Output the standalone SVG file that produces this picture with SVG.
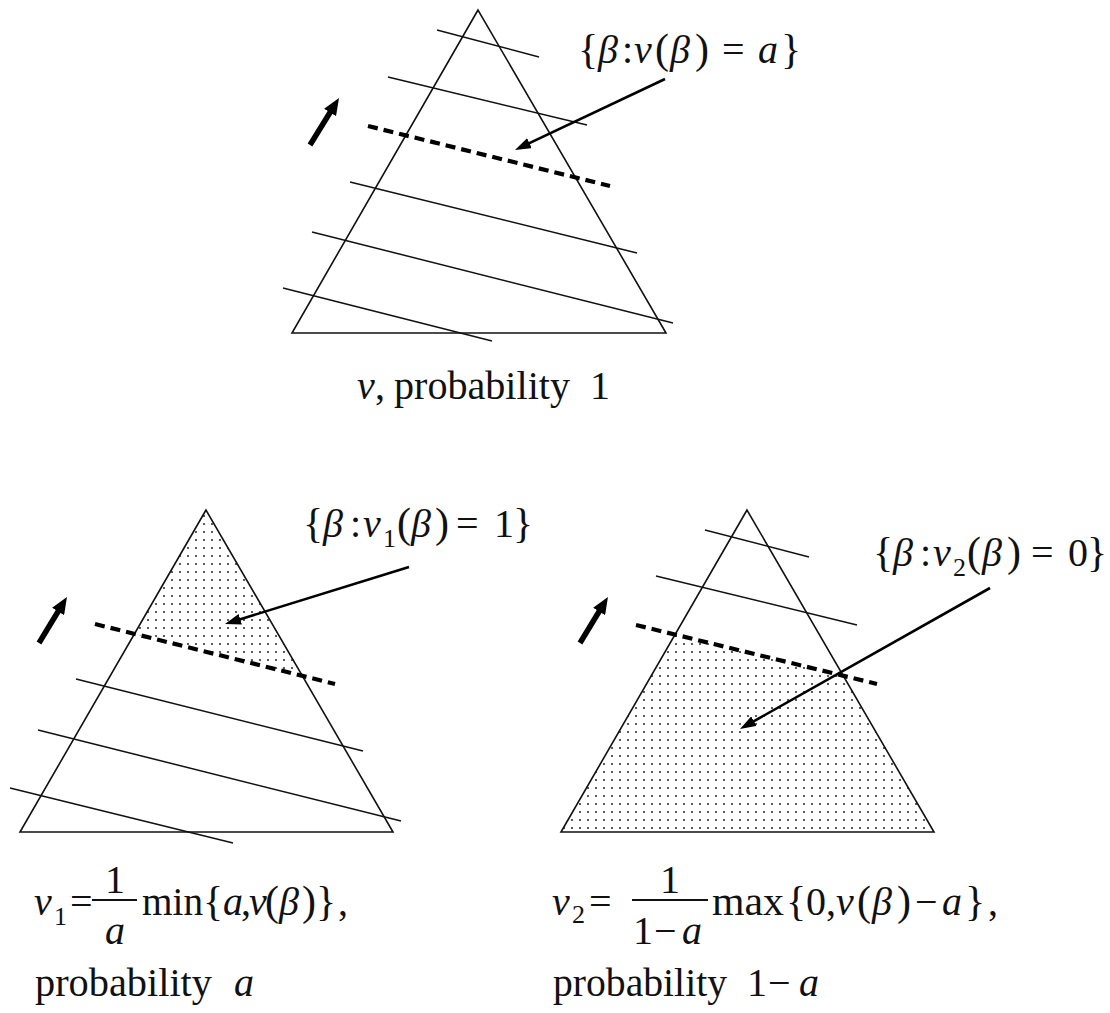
<svg xmlns="http://www.w3.org/2000/svg" width="1110" height="1013" viewBox="0 0 1110 1013" font-family="'Liberation Serif', 'DejaVu Serif', serif">
<style>
.thin{stroke:#111;stroke-width:1.5;fill:none}
.tri{stroke:#111;stroke-width:1.6;fill:none;stroke-linejoin:miter}
.dash{stroke:#000;stroke-width:4.2;stroke-dasharray:10 6;fill:none}
.ptr{stroke:#000;stroke-width:2.6;fill:none}
.up{stroke:#000;stroke-width:5.5;fill:none}
text{font-family:'Liberation Serif','DejaVu Serif',serif;font-size:40px;fill:#111}
.i{font-style:italic}
.br{font-size:42px}
.sub{font-size:26px}
</style>
<defs>
<pattern id="dots" width="8" height="8" patternUnits="userSpaceOnUse">
<circle cx="4" cy="4" r="1.1" fill="#333"/>
</pattern>
<marker id="headP" viewBox="0 0 16 11" refX="10" refY="5.5" markerWidth="16" markerHeight="11" orient="auto" markerUnits="userSpaceOnUse">
<path d="M0,0 L16,5.5 L0,11 z" fill="#000"/>
</marker>
<marker id="headU" viewBox="0 0 17 14" refX="9" refY="7" markerWidth="17" markerHeight="14" orient="auto" markerUnits="userSpaceOnUse">
<path d="M0,0 L17,7 L0,14 z" fill="#000"/>
</marker>
</defs>
<rect width="1110" height="1013" fill="#fff"/>

<g id="panel-top">
<line class="thin" x1="437" y1="30" x2="539" y2="57"/>
<line class="thin" x1="388" y1="77" x2="587" y2="125"/>
<line class="thin" x1="350" y1="182" x2="637" y2="253"/>
<line class="thin" x1="312" y1="232" x2="673" y2="323"/>
<line class="thin" x1="283" y1="288" x2="492" y2="341"/>
<polygon class="tri" points="478,10 292,333 666,333"/>
<line class="dash" x1="368" y1="126" x2="610" y2="186"/>
<text y="63"><tspan x="578" class="br">{</tspan><tspan x="598" class="i">β</tspan><tspan x="622">:</tspan><tspan x="634" class="i">v</tspan><tspan x="655" class="br">(</tspan><tspan x="670" class="i">β</tspan><tspan x="695" class="br">)</tspan><tspan x="722">=</tspan><tspan x="758" class="i">a</tspan><tspan x="781" class="br">}</tspan></text>
<text y="399"><tspan x="357" class="i">v</tspan><tspan x="375">,</tspan><tspan x="394" textLength="176" lengthAdjust="spacingAndGlyphs">probability</tspan><tspan x="590">1</tspan></text>
</g>

<g id="panel-left">
<polygon points="206,510 134.4,633.9 302.3,675.8" fill="url(#dots)"/>
<line class="thin" x1="76" y1="679" x2="363" y2="751"/>
<line class="thin" x1="38" y1="730" x2="401" y2="821"/>
<line class="thin" x1="10" y1="788" x2="233" y2="843"/>
<polygon class="tri" points="206,510 20,832 393,832"/>
<line class="dash" x1="95" y1="624" x2="335" y2="684"/>
<text y="537"><tspan x="303" class="br">{</tspan><tspan x="323" class="i">β</tspan><tspan x="350">:</tspan><tspan x="363" class="i">v</tspan><tspan x="383" dy="10" class="sub">1</tspan><tspan x="397" dy="-10" class="br">(</tspan><tspan x="411" class="i">β</tspan><tspan x="435" class="br">)</tspan><tspan x="456">=</tspan><tspan x="494">1</tspan><tspan x="513" class="br">}</tspan></text>
<text y="915"><tspan x="34" class="i">v</tspan><tspan x="54" dy="10" class="sub">1</tspan><tspan x="70" dy="-10">=</tspan></text>
<line x1="92" y1="900" x2="137" y2="900" stroke="#111" stroke-width="2"/>
<text x="115" y="893" text-anchor="middle">1</text>
<text x="115" y="944" text-anchor="middle" class="i">a</text>
<text y="915"><tspan x="142" textLength="61" lengthAdjust="spacingAndGlyphs">min</tspan><tspan x="203" class="br">{</tspan><tspan x="223" class="i">a</tspan><tspan x="241">,</tspan><tspan x="249" class="i">v</tspan><tspan x="265" class="br">(</tspan><tspan x="279" class="i">β</tspan><tspan x="302" class="br">)</tspan><tspan x="316" class="br">}</tspan><tspan x="338">,</tspan></text>
<text y="996"><tspan x="35" textLength="177" lengthAdjust="spacingAndGlyphs">probability</tspan><tspan x="234" class="i">a</tspan></text>
</g>

<g id="panel-right">
<polygon points="675.4,633.9 843.3,675.8 934,832 561,832" fill="url(#dots)"/>
<line class="thin" x1="705" y1="530" x2="809" y2="557"/>
<line class="thin" x1="656" y1="576" x2="857" y2="625"/>
<polygon class="tri" points="747,510 561,832 934,832"/>
<line class="dash" x1="636" y1="625" x2="877" y2="684"/>
<text y="566"><tspan x="873" class="br">{</tspan><tspan x="893" class="i">β</tspan><tspan x="920">:</tspan><tspan x="933" class="i">v</tspan><tspan x="953" dy="10" class="sub">2</tspan><tspan x="967" dy="-10" class="br">(</tspan><tspan x="982" class="i">β</tspan><tspan x="1007" class="br">)</tspan><tspan x="1031">=</tspan><tspan x="1068">0</tspan><tspan x="1087" class="br">}</tspan></text>
<text y="915"><tspan x="552" class="i">v</tspan><tspan x="572" dy="8" class="sub">2</tspan><tspan x="589" dy="-8">=</tspan></text>
<line x1="632" y1="900" x2="708" y2="900" stroke="#111" stroke-width="2"/>
<text x="670" y="893" text-anchor="middle">1</text>
<text y="944"><tspan x="633">1</tspan><tspan x="654">−</tspan><tspan x="682" class="i">a</tspan></text>
<text y="915"><tspan x="712" textLength="72" lengthAdjust="spacingAndGlyphs">max</tspan><tspan x="786" class="br">{</tspan><tspan x="806">0</tspan><tspan x="826">,</tspan><tspan x="836" class="i">v</tspan><tspan x="857" class="br">(</tspan><tspan x="872" class="i">β</tspan><tspan x="897" class="br">)</tspan><tspan x="915">−</tspan><tspan x="942" class="i">a</tspan><tspan x="965" class="br">}</tspan><tspan x="988">,</tspan></text>
<text y="996"><tspan x="553" textLength="174" lengthAdjust="spacingAndGlyphs">probability</tspan><tspan x="747">1</tspan><tspan x="768">−</tspan><tspan x="799" class="i">a</tspan></text>
</g>

<g id="connectors">
<line class="ptr" x1="665" y1="79" x2="520.4" y2="147.4" marker-end="url(#headP)"/>
<line class="ptr" x1="409" y1="567" x2="230.7" y2="622.2" marker-end="url(#headP)"/>
<line class="ptr" x1="990" y1="588" x2="745.2" y2="726.1" marker-end="url(#headP)"/>
<line class="up" x1="310" y1="145" x2="334.8" y2="104.8" marker-end="url(#headU)"/>
<line class="up" x1="39" y1="643" x2="62.8" y2="603.8" marker-end="url(#headU)"/>
<line class="up" x1="580" y1="643" x2="603.8" y2="603.8" marker-end="url(#headU)"/>
</g>
</svg>
